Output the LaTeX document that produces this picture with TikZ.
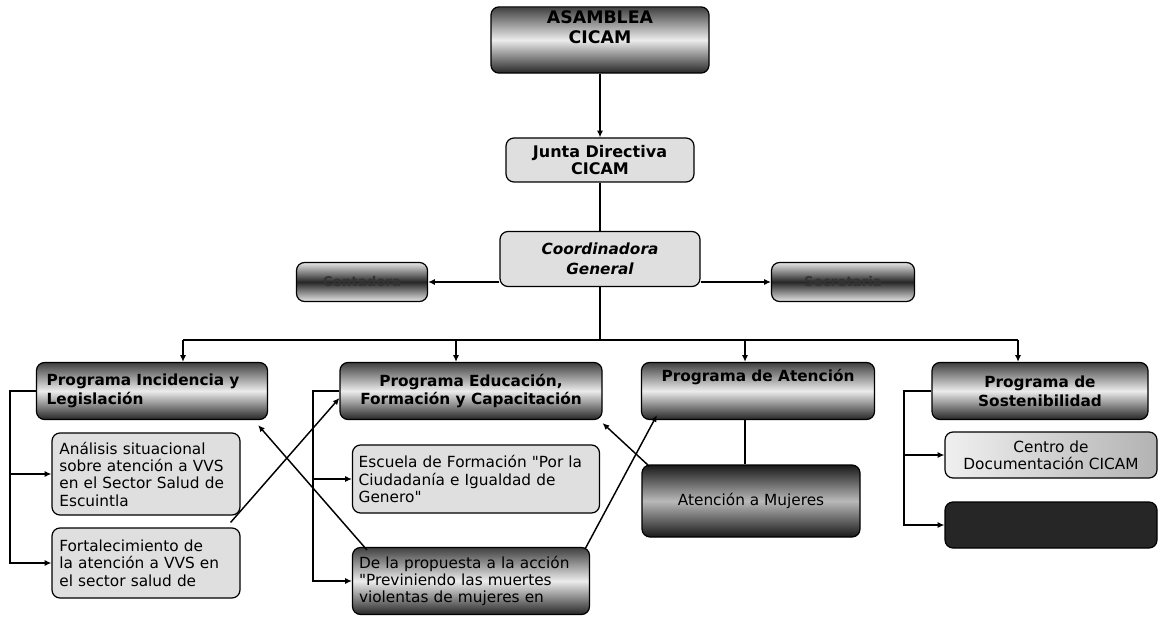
\documentclass[tikz,border=0pt]{standalone}
\usepackage{fontspec}
\setmainfont{DejaVu Sans}
\usepackage{tikz}
\usetikzlibrary{arrows.meta, calc, positioning, shapes.geometric, arrows}
\usepackage{xcolor}

\tikzset{
  boxbase/.style={draw=black, line width=0.9pt, rounded corners=6pt, inner sep=3pt},
  progbox/.style={boxbase, top color=black!75, bottom color=black!85, middle color=gray!15,
    minimum height=42.75pt, font=\bfseries\fontsize{11.5}{14}\selectfont, align=center},
  litebox/.style={boxbase, fill=gray!25, font=\fontsize{11.5}{13}\selectfont, align=left},
  bandbox/.style={boxbase, top color=gray!20, bottom color=gray!20, middle color=black!85,
    minimum width=#1, minimum height=29.25pt, font=\bfseries\fontsize{10}{12}\selectfont},
  arr/.style={-{Latex[length=5pt,width=4.5pt]}, line width=1.1pt},
  ln/.style={line width=1.1pt}
}

\begin{document}
\begin{tikzpicture}[x=0.75pt, y=-0.75pt]
\useasboundingbox (0,0) rectangle (1159,620);

% cabeza
\node (asam) [progbox, minimum width=163.5pt, minimum height=46.5pt,
  font=\bfseries\fontsize{13}{15}\selectfont] at (600,40) {ASAMBLEA\\CICAM\\[4pt]};
\node (junta) [litebox, align=center, minimum width=141pt, minimum height=33pt,
  font=\bfseries\fontsize{12}{13}\selectfont] at (600,160) {Junta Directiva\\CICAM};
\node (coord) [litebox, align=center, minimum width=150pt, minimum height=41.25pt,
  font=\bfseries\itshape\fontsize{11.5}{15}\selectfont] at (600,259) {Coordinadora\\General};
\node (contab) [bandbox=98.25pt, text=black!80] at (362,282) {Contadora};
\node (secre) [bandbox=107.25pt, text=black!80] at (843,282) {Secretaria};

% programas
\node (p1) [progbox, minimum width=173.25pt, text width=158pt, align=left] at (152,391)
  {Programa Incidencia y\\Legislación};
\node (p2) [progbox, minimum width=196.5pt] at (471,391)
  {Programa Educación,\\Formación y Capacitación};
\node (p3) [progbox, minimum width=174.75pt] at (758,391) {Programa de Atención\\[10pt]};
\node (p4) [progbox, minimum width=162pt] at (1040,391) {Programa de\\Sostenibilidad};

% proyectos
\node (c11) [litebox, minimum width=141pt, minimum height=61.5pt, text width=130pt] at (146,474)
  {Análisis situacional\\sobre atención a VVS\\en el Sector Salud de\\Escuintla};
\node (c12) [litebox, minimum width=141pt, minimum height=52.5pt, text width=130pt] at (146,563)
  {Fortalecimiento de\\la atención a VVS en\\el sector salud de};
\node (c21) [litebox, minimum width=185.25pt, minimum height=51pt, text width=176pt] at (476,479)
  {Escuela de Formación \textquotedbl Por la\\Ciudadanía e Igualdad de\\Genero\textquotedbl};
\node (c22) [progbox, font=\fontsize{11.5}{13}\selectfont, align=left, text width=168pt,
  minimum width=177.75pt, minimum height=50.25pt] at (471,581)
  {De la propuesta a la acción\\\textquotedbl Previniendo las muertes\\violentas de mujeres en};
\node (c31) [progbox, top color=black!90, bottom color=black!90, middle color=gray!55,
  font=\fontsize{11.5}{13}\selectfont, minimum width=163.5pt, minimum height=54pt] at (751,501)
  {Atención a Mujeres};
\node (c41) [litebox, left color=gray!12, right color=gray!60, align=center,
  minimum width=159pt, minimum height=34.5pt] at (1051,455) {Centro de\\Documentación CICAM};
\node (c42) [boxbase, fill=black!85, minimum width=159pt, minimum height=34.5pt] at (1051,525) {};

% conectores
\coordinate (b0) at (600,340);
\coordinate (b1) at (183,340);
\coordinate (b2) at (456,340);
\coordinate (b3) at (745,340);
\coordinate (b4) at (1018,340);
\coordinate (k1) at (10,391);
\coordinate (k2) at (313,391);
\coordinate (k4) at (904,391);

\draw[arr] (asam) -- (junta);
\draw[ln] (junta) -- (coord);
\draw[arr] (coord.west |- contab) -- (contab);
\draw[arr] (coord.east |- secre) -- (secre);
\draw[ln] (coord) -- (b0);
\draw[ln] (b1) -- (b4);
\foreach \b/\p in {b1/p1, b2/p2, b3/p3, b4/p4}
  \draw[arr] (\b) -- (\b |- \p.north);

\draw[arr] (p1.west) -- (k1) |- (c12.west);
\draw[arr] (k1 |- c11.west) -- (c11.west);
\draw[arr] (p2.west) -- (k2) |- (c22.west);
\draw[arr] (k2 |- c21.west) -- (c21.west);
\draw[arr] (p4.west) -- (k4) |- (c42.west);
\draw[arr] (k4 |- c41.west) -- (c41.west);
\draw[ln] (b3 |- p3.south) -- (b3 |- c31.north);

% cruces
\draw[arr] ($(c12.north east)+(-10,-5)$) -- ($(p2.west)+(0,7)$);
\draw[arr] ($(c22.north west)+(15,3)$) -- ($(p1.south east)+(-10,5)$);
\draw[arr] ($(c31.north west)+(8,2)$) -- ($(p2.south east)+(0,3)$);
\draw[arr] ($(c22.north east)+(-5,2)$) -- ($(p3.south west)+(16,-5)$);
\end{tikzpicture}
\end{document}
